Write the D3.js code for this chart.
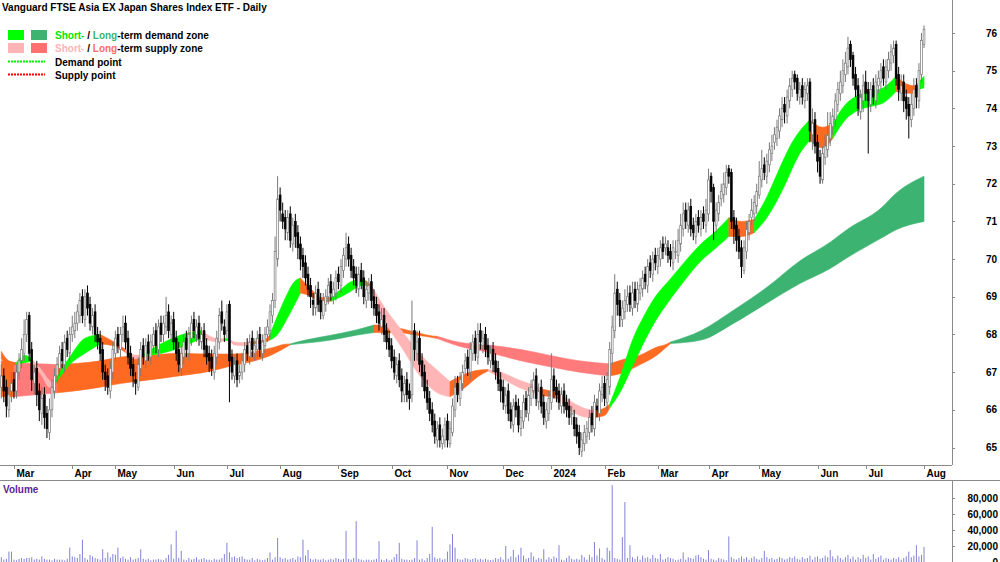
<!DOCTYPE html>
<html><head><meta charset="utf-8">
<script src="https://cdn.jsdelivr.net/npm/d3@7"></script>
<style>
body{margin:0;background:#fff;}
text{font-family:"Liberation Sans",Arial,sans-serif;font-weight:bold;font-size:10px;}
</style>
</head><body>
<svg id="c" width="1000" height="562"></svg>
<script>
// ---------- DATA ----------
const holidays = ["2023-04-07","2023-04-10","2023-04-25","2023-06-12","2023-12-25","2023-12-26",
  "2024-01-01","2024-01-26","2024-03-29","2024-04-01","2024-04-25","2024-06-10"];
const startDate = "2023-02-22";

const opens = [66.6,66.9,66.6,66.0,66.5,66.8,66.5,67.0,67.3,67.5,
68.0,68.5,67.6,66.7,67.1,66.5,65.9,66.4,65.9,65.4,
66.0,66.5,66.9,67.1,67.6,67.2,67.9,67.5,68.0,68.1,
68.3,68.5,69.0,68.4,69.1,68.8,68.2,68.6,68.0,67.9,
67.6,67.0,66.9,66.5,67.0,67.5,68.0,67.6,68.0,68.3,
67.9,67.5,67.2,66.8,66.6,67.1,67.7,67.3,67.8,67.4,
67.7,68.1,67.6,68.3,68.0,68.2,68.6,68.0,68.4,67.9,
67.6,67.1,67.4,67.9,67.5,67.9,68.4,68.0,68.3,67.8,
68.1,67.7,67.5,67.4,67.0,67.4,67.8,68.6,68.2,68.1,
68.8,67.4,66.9,67.3,66.9,67.0,67.2,67.7,67.4,67.9,
67.5,67.6,68.0,67.5,67.7,68.0,68.1,68.5,68.9,70.0,
71.7,71.2,71.1,70.7,71.2,70.4,71.0,70.7,70.4,70.1,
69.9,69.6,69.3,68.9,68.7,69.2,68.9,68.5,68.8,69.0,
69.4,69.0,69.1,69.6,69.3,69.7,70.0,70.4,70.1,69.8,
69.6,69.2,69.7,69.5,68.9,69.1,69.4,69.0,68.8,68.6,
68.2,68.5,68.1,67.9,67.7,67.4,66.9,67.3,66.9,66.4,
66.8,66.5,66.4,68.1,67.5,67.9,67.3,67.0,66.6,66.3,
66.0,65.7,65.2,65.6,65.1,65.2,65.7,65.1,65.4,66.0,
66.7,66.3,66.7,67.1,67.4,67.0,67.5,67.9,67.4,68.1,
67.7,68.0,67.7,67.3,67.6,67.3,67.1,66.8,66.6,66.1,
66.5,66.0,65.6,66.2,66.1,65.5,65.7,66.3,65.9,66.3,
66.5,66.9,66.2,66.6,66.2,65.7,65.9,66.2,66.9,66.6,
66.5,66.1,66.5,66.2,66.1,65.9,65.8,65.6,65.4,64.9,
65.1,65.3,65.4,65.9,65.5,66.1,65.9,66.4,66.7,66.2,
66.6,67.5,68.1,69.2,68.9,68.4,68.6,68.8,69.1,68.7,
69.2,68.8,69.1,69.2,69.6,69.3,69.9,69.6,70.1,69.8,
70.0,70.4,70.3,70.3,70.2,69.9,70.2,70.1,70.4,70.8,
71.3,70.9,71.4,70.9,70.6,71.1,70.8,71.2,70.9,71.2,
72.2,71.9,70.9,71.2,71.6,71.7,71.9,72.4,72.3,71.1,
70.9,70.6,70.3,69.7,70.2,70.7,71.1,71.2,71.4,71.7,
72.1,72.5,72.2,72.5,72.8,73.1,73.2,73.4,73.7,74.1,
73.8,74.2,74.5,74.9,74.8,74.3,74.6,74.2,74.4,74.7,
73.3,73.7,73.1,72.7,72.1,72.7,72.9,73.2,73.5,73.7,
74.1,74.4,74.6,74.9,75.1,75.7,75.4,74.9,74.6,73.9,
74.2,74.7,74.5,74.1,74.6,74.2,74.6,74.7,75.1,74.7,
75.0,75.2,75.4,75.7,74.9,74.4,74.7,74.3,74.1,73.7,
74.0,74.6,74.2,74.9,75.7];

const highs = [67.2,67.1,66.8,66.6,67.0,67.0,67.2,67.5,67.9,68.4,
68.6,68.6,67.8,67.2,67.3,66.7,66.6,66.6,66.1,66.3,
66.8,67.1,67.4,67.7,67.8,68.0,68.1,68.2,68.5,68.6,
68.8,69.1,69.2,69.2,69.3,69.0,68.7,68.8,68.2,68.1,
67.8,67.2,67.1,67.3,67.8,68.1,68.2,68.2,68.5,68.5,
68.1,67.7,67.4,67.0,67.4,67.8,67.9,67.9,68.0,68.0,
68.2,68.3,68.4,68.5,68.5,69.0,68.8,68.5,68.6,68.1,
67.8,67.7,68.0,68.1,68.2,68.5,68.6,68.4,68.5,68.2,
68.3,67.9,67.7,67.6,67.7,68.1,68.7,68.9,68.4,68.8,
68.9,67.6,67.4,67.5,67.2,67.5,67.8,67.9,68.0,68.1,
67.9,68.1,68.2,68.0,68.2,68.4,68.8,69.1,70.6,72.2,
71.9,71.5,71.3,71.3,71.4,71.1,71.2,70.9,70.6,70.3,
70.1,69.8,69.5,69.1,69.3,69.4,69.1,69.1,69.2,69.5,
69.6,69.4,69.7,69.8,70.0,70.3,70.7,70.6,70.3,70.0,
69.8,69.8,69.9,69.7,69.4,69.5,69.6,69.2,69.0,68.8,
68.7,68.7,68.3,68.1,67.9,67.6,67.4,67.5,67.1,66.9,
67.0,66.7,68.9,68.3,68.1,68.1,67.5,67.2,66.8,66.5,
66.2,65.9,65.7,65.8,65.5,65.8,65.9,65.7,66.3,66.9,
66.9,67.0,67.2,67.5,67.6,67.8,68.0,68.1,68.3,68.3,
68.1,68.2,67.9,67.7,67.8,67.5,67.3,67.0,66.8,66.6,
66.7,66.2,66.3,66.4,66.3,66.0,66.4,66.5,66.6,66.8,
67.0,67.1,66.7,66.8,66.4,66.2,66.5,67.5,67.1,66.8,
66.7,66.6,66.7,66.4,66.3,66.1,66.0,65.8,65.6,65.4,
65.6,65.7,66.0,66.1,66.4,66.3,66.7,66.9,66.9,67.0,
67.8,68.5,69.6,69.4,69.1,68.9,69.2,69.3,69.3,69.4,
69.4,69.4,69.5,69.7,69.8,70.0,70.1,70.2,70.3,70.3,
70.5,70.6,70.6,70.5,70.4,70.5,70.5,70.8,71.2,71.5,
71.5,71.5,71.6,71.1,71.2,71.3,71.3,71.4,71.6,72.4,
72.3,72.0,71.5,71.7,72.0,72.3,72.5,72.5,72.4,71.3,
71.1,70.8,70.5,70.5,71.0,71.2,71.6,71.7,72.0,72.6,
72.9,72.7,72.8,73.1,73.3,73.5,73.7,74.0,74.3,74.3,
74.5,74.8,75.0,75.0,74.9,74.7,74.8,74.7,74.8,74.8,
74.0,73.9,73.3,72.9,73.0,73.3,73.9,73.9,74.0,74.4,
74.7,75.0,75.3,75.5,75.9,75.8,75.5,75.1,74.8,74.5,
74.9,75.0,74.7,74.7,74.8,74.9,75.0,75.2,75.3,75.3,
75.5,75.7,75.8,75.8,75.1,74.9,74.9,74.5,74.3,74.4,
74.8,74.8,75.2,76.0,76.2];

const lows = [66.3,66.2,65.8,65.8,66.2,66.3,66.3,66.8,67.1,67.3,
67.8,67.3,66.5,66.4,66.1,65.7,65.6,65.5,65.25,65.2,
65.8,66.3,66.7,66.9,67.1,67.0,67.4,67.3,67.8,67.9,
68.1,68.3,68.3,68.2,68.5,68.1,68.0,67.8,67.6,67.3,
66.8,66.5,66.4,66.3,66.8,67.3,67.5,67.4,67.8,67.6,
67.2,66.9,66.6,66.4,66.5,66.9,67.2,67.1,67.3,67.2,
67.5,67.5,67.4,67.8,67.8,68.0,67.9,67.8,67.6,67.3,
67.0,66.9,67.2,67.4,67.3,67.7,67.9,67.8,67.7,67.6,
67.4,67.2,67.0,66.9,66.8,67.2,67.6,68.1,67.8,67.9,
66.2,66.8,66.7,66.6,66.7,66.8,67.0,67.3,67.2,67.4,
67.3,67.4,67.4,67.3,67.5,67.8,67.9,68.3,68.7,69.8,
71.0,70.8,70.5,70.5,70.3,70.2,70.3,70.0,69.7,69.5,
69.3,69.0,68.7,68.5,68.5,68.6,68.4,68.4,68.6,68.8,
68.9,68.8,68.9,69.2,69.1,69.5,69.8,69.8,69.5,69.3,
69.1,69.0,69.2,68.8,68.7,68.9,68.7,68.5,68.3,68.1,
68.0,67.8,67.6,67.4,67.1,66.8,66.7,66.6,66.2,66.2,
66.2,66.0,66.2,67.3,67.3,67.0,66.6,66.3,66.0,65.7,
65.4,65.1,65.0,65.0,64.95,65.0,65.0,65.0,65.3,65.8,
66.2,66.1,66.5,66.9,66.9,66.8,67.3,67.3,67.2,67.6,
67.5,67.4,67.2,67.1,67.0,66.8,66.5,66.2,66.0,65.9,
65.7,65.5,65.4,65.8,65.4,65.3,65.5,65.8,65.7,66.1,
66.3,66.1,66.0,65.9,65.6,65.5,65.7,66.0,66.3,66.2,
66.0,65.9,65.9,65.8,65.6,65.6,65.3,65.1,64.8,64.75,
64.9,65.1,65.2,65.4,65.3,65.8,65.7,66.2,66.1,66.0,
66.4,67.2,67.9,68.5,68.2,68.2,68.4,68.6,68.6,68.5,
68.7,68.6,68.9,69.0,69.2,69.1,69.5,69.4,69.7,69.6,
69.8,70.0,70.1,69.9,69.8,69.7,70.0,69.9,70.2,70.6,
70.8,70.7,70.6,70.5,70.4,70.7,70.6,70.8,70.7,71.0,
71.5,70.5,70.7,71.0,71.4,71.5,71.7,72.0,70.8,70.4,
70.2,70.0,69.5,69.6,70.0,70.5,70.9,71.0,71.2,71.6,
71.9,72.1,72.0,72.3,72.6,72.9,73.0,73.2,73.5,73.6,
73.6,74.0,74.3,74.5,74.2,74.1,74.1,74.0,74.2,73.1,
72.9,72.8,72.3,72.0,72.0,72.5,72.7,73.0,73.3,73.5,
73.9,74.2,74.4,74.7,74.9,75.1,74.6,74.3,73.8,73.7,
73.9,74.2,72.8,73.9,74.1,74.0,74.4,74.5,74.6,74.5,
74.8,75.0,75.2,74.6,74.2,74.2,73.9,73.7,73.2,73.5,
73.8,74.0,74.0,74.7,75.6];

const closes = [66.9,66.5,66.1,66.4,66.7,66.5,67.0,67.3,67.6,68.0,
68.4,67.5,66.8,67.0,66.4,66.0,66.3,65.8,65.5,66.0,
66.6,66.9,67.2,67.5,67.3,67.8,67.6,68.0,68.2,68.3,
68.6,68.9,68.5,69.0,68.7,68.3,68.5,68.0,67.8,67.5,
67.0,66.8,66.6,67.1,67.6,67.9,67.7,68.0,68.2,67.8,
67.4,67.1,66.9,66.7,67.2,67.6,67.4,67.7,67.5,67.8,
68.0,67.7,68.2,68.0,68.3,68.5,68.1,68.3,67.8,67.5,
67.2,67.5,67.8,67.6,68.0,68.3,68.1,68.2,67.9,68.0,
67.6,67.4,67.3,67.1,67.5,67.9,68.5,68.3,68.0,68.6,
67.3,67.0,67.2,66.8,67.0,67.3,67.6,67.5,67.8,67.6,
67.7,67.9,67.6,67.8,68.0,68.2,68.6,68.9,70.2,71.6,
71.3,71.0,70.8,71.1,70.5,70.9,70.6,70.3,70.0,69.8,
69.5,69.2,69.0,68.8,69.1,68.8,68.6,68.9,69.0,69.3,
69.1,69.2,69.5,69.4,69.8,70.1,70.3,70.0,69.7,69.5,
69.3,69.6,69.4,69.0,69.2,69.3,68.9,68.7,68.5,68.3,
68.4,68.0,67.8,67.6,67.3,67.0,67.2,66.8,66.5,66.7,
66.4,66.3,68.0,67.6,67.8,67.2,66.9,66.5,66.2,65.9,
65.6,65.3,65.5,65.2,65.3,65.6,65.2,65.5,66.1,66.6,
66.4,66.8,67.0,67.3,67.1,67.6,67.8,67.5,68.0,67.8,
67.9,67.6,67.4,67.5,67.2,67.0,66.7,66.5,66.2,66.4,
65.9,65.7,66.1,66.0,65.6,65.8,66.2,66.0,66.4,66.6,
66.8,66.3,66.5,66.1,65.8,66.0,66.3,66.8,66.5,66.4,
66.2,66.4,66.1,66.0,65.8,65.9,65.5,65.3,65.0,65.2,
65.4,65.5,65.8,65.6,66.2,66.0,66.5,66.6,66.3,66.8,
67.6,68.2,69.1,68.8,68.5,68.7,68.9,69.0,68.8,69.1,
68.9,69.2,69.3,69.5,69.4,69.8,69.7,70.0,69.9,70.1,
70.3,70.2,70.4,70.1,70.0,70.3,70.2,70.5,70.9,71.2,
71.0,71.3,70.8,70.7,71.0,70.9,71.1,71.0,71.3,72.1,
71.8,71.0,71.3,71.5,71.8,72.0,72.3,72.2,71.0,70.8,
70.5,70.2,69.8,70.3,70.8,71.0,71.3,71.5,71.8,72.2,
72.4,72.3,72.6,72.9,73.0,73.3,73.5,73.8,74.0,73.9,
74.3,74.6,74.8,74.7,74.4,74.5,74.3,74.5,74.6,73.4,
73.6,73.0,72.6,72.2,72.8,73.0,73.3,73.6,73.8,74.2,
74.5,74.7,75.0,75.2,75.6,75.3,74.8,74.5,74.0,74.3,
74.6,74.4,74.2,74.5,74.3,74.7,74.8,75.0,74.8,75.1,
75.3,75.5,75.6,74.8,74.5,74.6,74.2,74.0,73.8,74.1,
74.5,74.3,75.0,75.8,76.1];

// volume in thousands of units
const volumeK = [6,3,4,13,13,3,2,4,5,4,
5,5,6,3,4,3,7,4,3,3,
2,4,3,3,3,2,4,18,7,6,
5,10,28,5,3,9,7,5,4,3,
16,5,12,6,10,9,18,5,7,4,
3,6,3,4,5,16,4,3,4,2,
3,3,4,3,2,5,9,22,4,39,
5,14,3,2,5,3,4,6,3,4,
5,3,3,2,4,3,3,5,10,24,
12,6,7,5,6,7,4,3,3,5,
2,4,3,2,3,5,12,3,6,30,
6,4,5,3,4,5,3,7,6,28,
8,15,4,3,4,3,3,4,2,3,
4,3,5,4,3,4,39,4,3,5,
51,4,3,2,3,3,2,3,4,26,
3,2,4,2,3,6,10,24,4,3,
3,2,3,5,27,3,4,2,5,10,
44,6,4,5,3,4,13,22,35,18,
4,3,3,5,4,3,4,5,3,4,
3,4,3,2,3,5,4,6,3,20,
4,7,15,6,9,18,8,4,5,12,
7,3,5,4,16,3,6,4,7,5,
21,3,2,5,8,4,3,4,3,9,
6,3,9,6,25,8,17,5,3,18,
14,96,5,4,3,31,75,5,21,6,
4,7,3,8,5,6,4,9,5,4,
10,3,4,6,5,4,2,3,4,12,
3,6,5,4,8,9,6,4,3,15,
4,3,2,5,4,3,2,32,6,4,
3,5,7,4,6,3,5,7,4,3,
5,14,6,4,5,3,4,6,5,3,
4,6,5,7,4,3,6,4,5,8,
3,6,7,4,5,8,6,15,7,4,
8,5,3,6,9,4,7,3,6,4,
9,5,7,3,10,4,6,8,3,5,
4,3,5,4,6,3,5,7,13,6,
8,21,7,9,19];

// short-term zone boundaries, sampled at candle indices
const shortIdx = [0,3,6,9,12,16,19,21,24,27,33,39,45,49,53,56,59,66,74,79,86,88,90,92,96,98,104,106,109,113,115,118,122,126,130,134,138,142,144,146,149,158,167,172,177,183,188,192,197,204,210,213,219,222,228,232,234,238,240,244,249,254,258,263,268,276,282,287,292,297,302,306,309,312,315,319,324,328,333,338,343,348,353,357,360,362,364];
const shortHi = [67.55,67.3,67.25,67.45,67.35,67.05,66.78,66.72,67.1,67.4,67.9,68.0,67.78,67.6,67.45,67.47,67.6,67.85,68.05,68.1,67.88,67.9,67.88,67.8,67.78,67.8,67.86,68.0,68.5,69.1,69.35,69.5,69.22,68.98,68.98,69.2,69.4,69.45,69.42,69.3,68.95,68.1,67.35,67.05,66.75,66.95,67.05,67.07,67.0,66.8,66.65,66.55,66.45,66.35,66.1,66.0,65.98,66.05,66.15,66.85,67.85,68.55,69.0,69.4,69.8,70.4,70.75,71.1,71.0,71.05,71.65,72.25,72.7,73.1,73.4,73.7,73.5,73.6,74.1,74.35,74.45,74.55,74.85,74.65,74.6,74.7,74.85];
const shortLo = [67.35,67.2,67.2,67.25,67.28,66.9,66.6,66.68,66.95,67.2,67.5,67.75,67.68,67.52,67.35,67.43,67.45,67.55,67.75,67.9,67.8,67.84,67.84,67.72,67.7,67.74,67.8,67.85,68.0,68.45,68.7,69.1,69.02,68.85,68.88,69.0,69.15,69.3,69.3,69.18,68.65,67.65,66.75,66.45,66.35,66.6,66.88,67.03,66.85,66.6,66.45,66.38,66.3,66.12,65.85,65.8,65.8,65.85,66.05,66.45,67.15,67.85,68.35,68.85,69.3,69.95,70.3,70.6,70.6,70.7,71.1,71.55,71.95,72.4,72.8,73.15,72.95,73.2,73.7,73.95,74.05,74.15,74.45,74.4,74.4,74.5,74.55];
// colour runs: [start index, state]
const shortRuns = [[0,"o"],[6,"sg"],[12,"sp"],[21,"sg"],[39,"o"],[49,"sp"],[56,"sg"],[79,"sp"],[88,"sg"],[90,"sp"],[98,"o"],[106,"sg"],[118,"o"],[130,"sg"],[144,"o"],[146,"sp"],[177,"o"],[192,"sp"],[213,"o"],[222,"sp"],[234,"o"],[240,"sg"],[287,"o"],[297,"sg"],[319,"o"],[328,"sg"],[353,"o"],[362,"sg"]];

// long-term zone boundaries
const longIdx = [0,5,22,39,47,59,70,82,91,100,107,112,114,120,130,140,147,152,158,164,170,172,180,192,205,216,228,240,246,252,258,263,264,276,289,302,315,327,334,347,353,364];
const longHi = [67.3,67.25,67.2,67.3,67.4,67.45,67.5,67.48,67.48,67.55,67.65,67.74,67.75,67.85,67.98,68.12,68.25,68.25,68.15,68.05,67.96,67.95,67.8,67.72,67.6,67.45,67.3,67.22,67.35,67.45,67.65,67.76,67.8,68.1,68.65,69.25,69.95,70.45,70.8,71.35,71.75,72.2];
const longLo = [66.35,66.35,66.45,66.6,66.7,66.8,66.9,67.02,67.17,67.3,67.47,67.65,67.73,67.77,67.85,67.98,68.05,68.05,68.04,67.98,67.92,67.89,67.7,67.53,67.3,67.15,67.0,66.9,67.0,67.2,67.42,67.7,67.76,67.85,68.3,68.83,69.35,69.75,70.05,70.55,70.78,71.0];
const longRuns = [[0,"o"],[5,"lr"],[22,"o"],[114,"lg"],[147,"o"],[172,"lr"],[240,"o"],[264,"lg"]];

const priceTicks = [65,66,67,68,69,70,71,72,73,74,75,76];
const volumeTicksK = [0,20,40,60,80];
const monthNames = ["Jan","Feb","Mar","Apr","May","Jun","Jul","Aug","Sep","Oct","Nov","Dec"];

// ---------- CHART ----------
const zoneColors = {sg:"#00ff00", sp:"#ffb5b5", o:"#ff6a22", lg:"#3cb371", lr:"#ff7a7a"};
const N = closes.length;
const plotRight = 952, axisY = 465, sepY = 480.5;

// trading dates
const dates = [];
{
  const d = new Date(startDate + "T00:00:00Z");
  while (dates.length < N) {
    const s = d.toISOString().slice(0,10), w = d.getUTCDay();
    if (w !== 0 && w !== 6 && !holidays.includes(s)) dates.push(new Date(d));
    d.setUTCDate(d.getUTCDate() + 1);
  }
}

const x = d3.scaleLinear().domain([0, N - 1]).range([1.3, 924]);
const y = d3.scaleLinear().domain([65, 76]).range([447.5, 33]);
const yv = d3.scaleLinear().domain([0, 80]).range([562, 498]);

const svg = d3.select("#c");
svg.append("defs").append("clipPath").attr("id","pc")
  .append("rect").attr("x",0).attr("y",0).attr("width",plotRight).attr("height",axisY);
const plot = svg.append("g").attr("clip-path","url(#pc)");

function drawZone(idx, hi, lo, runs) {
  const pts = idx.map((d,k) => ({i:d, hi:hi[k], lo:lo[k]}));
  const area = d3.area().x(p => x(p.i)).y0(p => y(p.lo)).y1(p => y(p.hi)).curve(d3.curveMonotoneX);
  runs.forEach((r,k) => {
    const end = k < runs.length - 1 ? runs[k+1][0] : idx[idx.length-1];
    const seg = pts.filter(p => p.i >= r[0] && p.i <= end);
    plot.append("path").attr("d", area(seg))
      .attr("fill", zoneColors[r[1]]).attr("stroke", zoneColors[r[1]]).attr("stroke-width", 0.6);
  });
}
drawZone(longIdx, longHi, longLo, longRuns);
drawZone(shortIdx, shortHi, shortLo, shortRuns);

// candles
const candles = closes.map((c,i) => {
  const o = opens[i];
  return {i, o, c, h: Math.max(highs[i], o, c), l: Math.min(lows[i], o, c), up: c >= o};
});
const cg = plot.append("g");
cg.selectAll("line.w").data(candles).join("line")
  .attr("x1", d => x(d.i)).attr("x2", d => x(d.i))
  .attr("y1", d => y(d.h)).attr("y2", d => y(d.l))
  .attr("stroke", d => d.up ? "#7a7a7a" : "#000").attr("stroke-width", 1);
cg.selectAll("rect.b").data(candles).join("rect")
  .attr("x", d => x(d.i) - 0.9).attr("width", 1.8)
  .attr("y", d => y(Math.max(d.o, d.c)))
  .attr("height", d => Math.max(1, y(Math.min(d.o, d.c)) - y(Math.max(d.o, d.c))))
  .attr("fill", d => d.up ? "#fff" : "#000")
  .attr("stroke", d => d.up ? "#7a7a7a" : "#000").attr("stroke-width", 0.7);

// axes lines
const axisCol = "#8a8a8a";
svg.append("line").attr("x1",0).attr("x2",plotRight).attr("y1",axisY+0.5).attr("y2",axisY+0.5).attr("stroke",axisCol);
svg.append("line").attr("x1",0).attr("x2",1000).attr("y1",sepY).attr("y2",sepY).attr("stroke",axisCol);
svg.append("line").attr("x1",plotRight+0.5).attr("x2",plotRight+0.5).attr("y1",0).attr("y2",axisY).attr("stroke",axisCol);
svg.append("line").attr("x1",plotRight+0.5).attr("x2",plotRight+0.5).attr("y1",sepY).attr("y2",562).attr("stroke",axisCol);

// price axis
priceTicks.forEach(v => {
  svg.append("line").attr("x1",plotRight).attr("x2",plotRight+3).attr("y1",Math.round(y(v))+0.5).attr("y2",Math.round(y(v))+0.5).attr("stroke",axisCol);
  svg.append("text").attr("x",997).attr("y",y(v)).attr("dy","0.35em").attr("text-anchor","end").text(v);
});

// month axis
const monthStarts = [];
dates.forEach((d,i) => { if (i > 0 && d.getUTCMonth() !== dates[i-1].getUTCMonth()) monthStarts.push(i); });
monthStarts.forEach(i => {
  const d = dates[i];
  const xi = Math.round(x(i)) + 0.5;
  svg.append("line").attr("x1",xi).attr("x2",xi).attr("y1",axisY+1).attr("y2",axisY+4).attr("stroke",axisCol);
  svg.append("text").attr("x",xi+2).attr("y",477)
    .text(d.getUTCMonth() === 0 ? String(d.getUTCFullYear()) : monthNames[d.getUTCMonth()]);
});

// volume
svg.append("g").selectAll("rect").data(volumeK).join("rect")
  .attr("x", (v,i) => x(i) - 0.5).attr("width", 1)
  .attr("y", v => yv(v)).attr("height", v => 562 - yv(v))
  .attr("fill", "#8383d8");
volumeTicksK.forEach(v => {
  svg.append("line").attr("x1",plotRight).attr("x2",plotRight+3).attr("y1",Math.round(yv(v))+0.5).attr("y2",Math.round(yv(v))+0.5).attr("stroke",axisCol);
  svg.append("text").attr("x",998).attr("y",yv(v)).attr("dy","0.35em").attr("text-anchor","end")
    .text(d3.format(",")(v*1000));
});
svg.append("text").attr("x",3).attr("y",493).attr("fill","#5b1f95").text("Volume");

// title & legend
svg.append("text").attr("x",2).attr("y",10.5).text("Vanguard FTSE Asia EX Japan Shares Index ETF - Daily");
const lg = svg.append("g");
[["#00ff00",8,30],["#3cb371",31,30],["#ffb5b5",8,43],["#ff7070",31,43]].forEach(b => {
  lg.append("rect").attr("x",b[1]).attr("y",b[2]).attr("width",16).attr("height",10).attr("fill",b[0]);
});
const t1 = lg.append("text").attr("x",55).attr("y",38.5);
t1.append("tspan").attr("fill","#00e600").text("Short-");
t1.append("tspan").text(" / ");
t1.append("tspan").attr("fill","#3cb371").text("Long");
t1.append("tspan").text("-term demand zone");
const t2 = lg.append("text").attr("x",55).attr("y",51.5);
t2.append("tspan").attr("fill","#ffb5b5").text("Short-");
t2.append("tspan").text(" / ");
t2.append("tspan").attr("fill","#ff6a6a").text("Long");
t2.append("tspan").text("-term supply zone");
lg.append("line").attr("x1",8).attr("x2",45).attr("y1",61.5).attr("y2",61.5).attr("stroke","#00ee00").attr("stroke-width",2).attr("stroke-dasharray","2,1");
lg.append("line").attr("x1",8).attr("x2",45).attr("y1",74.5).attr("y2",74.5).attr("stroke","#ff0000").attr("stroke-width",2).attr("stroke-dasharray","2,1");
lg.append("text").attr("x",55).attr("y",65.5).text("Demand point");
lg.append("text").attr("x",55).attr("y",78.5).text("Supply point");
</script>
</body></html>
